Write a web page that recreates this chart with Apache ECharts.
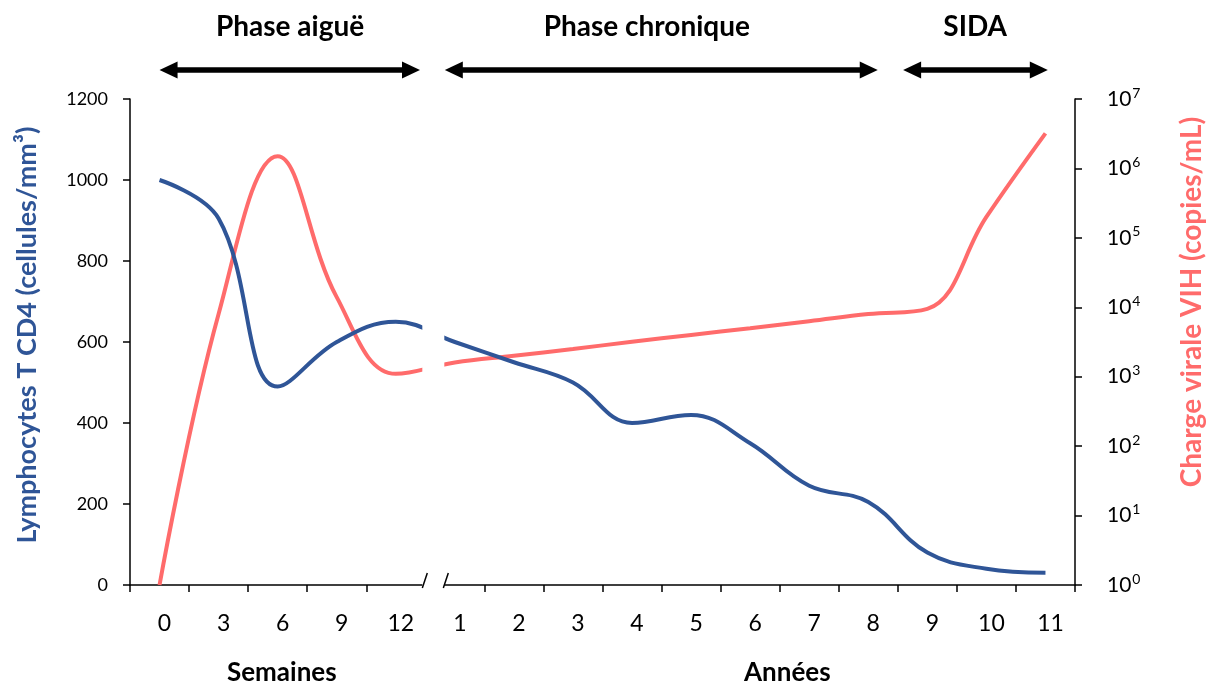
<!DOCTYPE html>
<html>
<head>
<meta charset="utf-8">
<script src="https://cdn.jsdelivr.net/npm/echarts@6/dist/echarts.min.js"></script>
<style>
html,body{margin:0;padding:0;background:#fff;}
#chart{width:1213px;height:686px;}
</style>
</head>
<body>
<div id="chart"></div>
<script>
// ---- data ----
const weeks = [0, 3, 6, 9, 12];
const years = [1, 2, 3, 4, 5, 6, 7, 8, 9, 10, 11];
const cd4 = [1000, 905, 490, 600, 650, 600, 550, 500, 400, 420, 350, 245, 205, 80, 40, 30];
const viralLoad = [1, 8000, 1500000, 14000, 1100, 1600, 2000, 2500, 3200, 4000, 5000, 6300, 8000, 9500, 200000, 3200000];
const cd4Axis = { min: 0, max: 1200, interval: 200 };
const viralAxis = { min: 1, max: 10000000 };
const phaseLabels = ['Phase aiguë', 'Phase chronique', 'SIDA'];
// arrow spans and label anchors, in category-index units
const phaseFrom = [0, 4.83, 12.59];
const phaseTo = [4.41, 12.16, 15.04];
const phaseLabelAt = [2.21, 8.25, 13.81];

const categories = weeks.map(w => 'S' + w).concat(years.map(y => 'A' + y));

const BLUE = '#2F5597';
const RED = '#FF6B6B';
const FONT = 'Lato';

const chart = echarts.init(document.getElementById('chart'), null, { renderer: 'canvas' });

const option = {
  animation: false,
  backgroundColor: '#fff',
  grid: { left: 130, right: 138, top: 99, bottom: 101, containLabel: false },
  xAxis: {
    type: 'category',
    data: categories,
    boundaryGap: true,
    axisLine: { show: true, lineStyle: { color: '#000', width: 1.5 } },
    axisTick: { show: true, length: 7, lineStyle: { color: '#000', width: 1.5 }, alignWithLabel: false },
    axisLabel: {
      interval: 0, margin: 27, fontFamily: FONT, fontSize: 23, color: '#000',
      padding: [0, 0, 0, 10],
      formatter: v => v.slice(1)
    },
    splitLine: { show: false }
  },
  yAxis: [
    {
      type: 'value',
      min: cd4Axis.min, max: cd4Axis.max, interval: cd4Axis.interval,
      position: 'left',
      axisLine: { show: true, lineStyle: { color: '#000', width: 1.5 } },
      axisTick: { show: true, length: 7, lineStyle: { color: '#000', width: 1.5 } },
      axisLabel: { margin: 22, fontFamily: FONT, fontSize: 18, color: '#000', formatter: v => String(v) },
      splitLine: { show: false }
    },
    {
      type: 'log',
      logBase: 10,
      min: viralAxis.min, max: viralAxis.max,
      position: 'right',
      axisLine: { show: true, lineStyle: { color: '#000', width: 1.5 } },
      axisTick: { show: true, length: 7, lineStyle: { color: '#000', width: 1.5 } },
      axisLabel: {
        margin: 32, fontFamily: FONT, fontSize: 21, color: '#000',
        formatter: v => '{b|10}{s|' + Math.round(Math.log10(v)) + '}',
        rich: {
          b: { fontFamily: FONT, fontSize: 21, color: '#000' },
          s: { fontFamily: FONT, fontSize: 14, color: '#000', padding: [0, 0, 12, 1] }
        }
      },
      splitLine: { show: false }
    }
  ],
  series: [
    {
      name: 'CD4',
      type: 'line',
      yAxisIndex: 0,
      data: cd4,
      smooth: 0.4,
      showSymbol: false,
      symbol: 'none',
      lineStyle: { color: BLUE, width: 4 },
      z: 3
    },
    {
      name: 'Charge virale',
      type: 'line',
      yAxisIndex: 1,
      data: viralLoad,
      smooth: 0.4,
      showSymbol: false,
      symbol: 'none',
      lineStyle: { color: RED, width: 4 },
      z: 2
    }
  ]
};

chart.setOption(option);

// ---- annotations (derived from axis scales) ----
function px(idx) {
  const p0 = chart.convertToPixel({ xAxisIndex: 0 }, 0);
  const p1 = chart.convertToPixel({ xAxisIndex: 0 }, 1);
  return p0 + (p1 - p0) * idx;
}
const yTop = chart.convertToPixel({ yAxisIndex: 0 }, cd4Axis.max);
const yBase = chart.convertToPixel({ yAxisIndex: 0 }, cd4Axis.min);
const boundary = px(4.5);
const gapL = boundary - 3, gapR = boundary + 19;

const elements = [];
// axis break
elements.push({
  type: 'rect', z: 100,
  shape: { x: gapL, y: yTop - 5, width: gapR - gapL, height: yBase - yTop + 13 },
  style: { fill: '#fff' }
});
[gapL, gapR - 1].forEach(x => {
  elements.push({
    type: 'line', z: 101,
    shape: { x1: x, y1: yBase + 3, x2: x + 5, y2: yBase - 12 },
    style: { stroke: '#000', lineWidth: 1.5 }
  });
});
// phase arrows
const arrowY = 70, headL = 18, headH = 8.5;
phaseLabels.forEach((lab, i) => {
  const x1 = px(phaseFrom[i]), x2 = px(phaseTo[i]);
  elements.push({
    type: 'line', z: 100,
    shape: { x1: x1 + headL - 2, y1: arrowY, x2: x2 - headL + 2, y2: arrowY },
    style: { stroke: '#000', lineWidth: 5.5 }
  });
  elements.push({
    type: 'polygon', z: 100,
    shape: { points: [[x1, arrowY], [x1 + headL, arrowY - headH], [x1 + headL, arrowY + headH]] },
    style: { fill: '#000' }
  });
  elements.push({
    type: 'polygon', z: 100,
    shape: { points: [[x2, arrowY], [x2 - headL, arrowY - headH], [x2 - headL, arrowY + headH]] },
    style: { fill: '#000' }
  });
  elements.push({
    type: 'text', z: 100, x: px(phaseLabelAt[i]), y: 27,
    style: { text: lab, fill: '#000', font: 'bold 28px ' + FONT, textAlign: 'center', textVerticalAlign: 'middle' }
  });
});
// axis titles
elements.push({
  type: 'text', z: 100, x: 27, y: 335, rotation: Math.PI / 2,
  style: { text: 'Lymphocytes T CD4 (cellules/mm³)', fill: BLUE, font: 'bold 27px ' + FONT, textAlign: 'center', textVerticalAlign: 'middle' }
});
elements.push({
  type: 'text', z: 100, x: 1192, y: 302, rotation: Math.PI / 2,
  style: { text: 'Charge virale VIH (copies/mL)', fill: RED, font: 'bold 28px ' + FONT, textAlign: 'center', textVerticalAlign: 'middle' }
});
elements.push({
  type: 'text', z: 100, x: px(2.07), y: 673,
  style: { text: 'Semaines', fill: '#000', font: 'bold 26px ' + FONT, textAlign: 'center', textVerticalAlign: 'middle' }
});
elements.push({
  type: 'text', z: 100, x: px(10.63), y: 673,
  style: { text: 'Années', fill: '#000', font: 'bold 26px ' + FONT, textAlign: 'center', textVerticalAlign: 'middle' }
});

chart.setOption({ graphic: { elements } });
</script>
</body>
</html>
